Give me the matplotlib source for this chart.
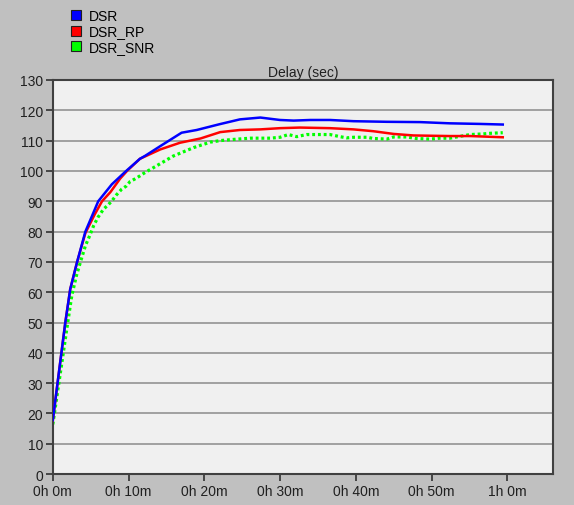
import matplotlib
matplotlib.use("Agg")
import matplotlib.pyplot as plt
from matplotlib.lines import Line2D

plt.rcParams["font.family"] = ["Liberation Sans", "DejaVu Sans"]

# Delay (sec) over simulated time (minutes)
dsr_t = [0, 0.7, 1.65, 2.3, 3.2, 4.3, 6.0, 7.8, 9.6, 11.5, 12.2, 14.2, 17.0, 19.0,
         22.0, 24.7, 27.4, 30.0, 31.8, 34.0, 36.6, 39.7, 44.1, 48.5, 52.4, 56.4, 59.4]
dsr_v = [17.8, 31.5, 50.0, 61.0, 69.9, 80.0, 90.0, 95.6, 99.8, 104.0, 105.0, 108.2,
         112.6, 113.5, 115.4, 117.0, 117.6, 116.8, 116.6, 116.8, 116.8, 116.4, 116.2,
         116.1, 115.7, 115.5, 115.3]

rp_t = [0, 0.7, 1.65, 2.3, 3.2, 4.3, 5.5, 6.5, 7.6, 8.9, 9.8, 11.5, 14.2, 16.8, 19.5,
        22.1, 24.7, 27.4, 30.0, 32.6, 36.6, 39.7, 42.3, 45.0, 47.6, 52.4, 55.1, 59.4]
rp_v = [17.8, 31.5, 50.0, 61.0, 69.9, 79.5, 85.5, 90.0, 93.0, 97.5, 100.0, 104.0,
        107.1, 109.3, 110.7, 112.8, 113.5, 113.7, 114.1, 114.3, 114.1, 113.7, 113.1,
        112.2, 111.7, 111.5, 111.5, 111.1]

snr_t = [0, 0.77, 2.0, 2.5, 3.1, 3.7, 4.3, 4.86, 5.4, 5.96, 6.7, 7.3, 7.8, 8.4, 9.1,
         9.7, 10.2, 10.8, 11.4, 12.0, 13.3, 15.9, 18.6, 20.8, 22.1, 23.9, 26.1, 28.7,
         30.0, 31.1, 32.2, 33.5, 36.6, 37.9, 38.8, 39.7, 41.5, 42.3, 44.1, 45.0, 46.7,
         48.0, 49.8, 51.1, 52.4, 55.1, 56.8, 57.7, 59.4]
snr_v = [16.4, 29.5, 50.5, 58.8, 65.3, 70.4, 75.3, 78.6, 82.0, 84.7, 87.4, 88.8, 90.1,
         92.1, 94.0, 95.0, 96.5, 97.3, 98.2, 99.2, 101.1, 104.9, 107.7, 109.5, 110.0,
         110.4, 110.8, 110.8, 111.1, 112.0, 111.3, 112.0, 112.0, 111.3, 110.9, 111.1,
         111.1, 110.7, 110.5, 111.2, 111.2, 110.7, 110.5, 110.8, 110.8, 112.0, 112.2,
         112.4, 112.6]

x_ticks = [0, 10, 20, 30, 40, 50, 60]
x_labels = ["0h 0m", "0h 10m", "0h 20m", "0h 30m", "0h 40m", "0h 50m", "1h 0m"]
y_ticks = list(range(0, 131, 10))

fig = plt.figure(figsize=(5.74, 5.06), dpi=100, facecolor="#c0c0c0")
ax = fig.add_axes([0.092, 0.061, 0.871, 0.779])
ax.set_facecolor("#f0f0f0")

ax.plot(snr_t, snr_v, color="#00ff00", lw=2.3, linestyle=(0, (0.9, 0.9)), zorder=2)
ax.plot(rp_t, rp_v, color="#ff0000", lw=1.8, zorder=3)
ax.plot(dsr_t, dsr_v, color="#0000ff", lw=1.8, zorder=4)

ax.set_xlim(0, 66)
ax.set_ylim(0, 130)
ax.set_xticks(x_ticks)
ax.set_xticklabels(x_labels)
ax.set_yticks(y_ticks)
ax.yaxis.grid(True, color="#9a9a9a", lw=1.3)
ax.set_axisbelow(True)
ax.tick_params(direction="out", length=5, width=1.2, colors="#303030",
               labelsize=10, labelcolor="#202020", pad=2)
for s in ax.spines.values():
    s.set_color("#404040")
    s.set_linewidth(1.5)

ax.set_title("Delay (sec)", fontsize=10, color="#202020", pad=3)

handles = [
    Line2D([], [], marker="s", linestyle="none", markersize=7,
           markerfacecolor=c, markeredgecolor="#202020", markeredgewidth=0.8)
    for c in ["#0000ff", "#ff0000", "#00ff00"]
]
fig.legend(handles, ["DSR", "DSR_RP", "DSR_SNR"], loc="upper left",
           bbox_to_anchor=(0.107, 1.0), frameon=False, fontsize=10,
           handlelength=0.7, handletextpad=0.55, labelspacing=0.12, borderpad=0.2)

fig.savefig("out.png", dpi=100, facecolor=fig.get_facecolor())
